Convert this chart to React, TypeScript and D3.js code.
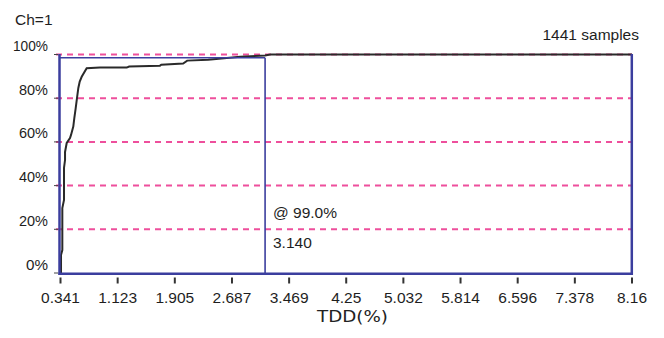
import React from 'react';
import * as d3 from 'd3';

// cumulative distribution: TDD value (%) vs share of samples (%)
const tddValues = [0.341, 0.348, 0.348, 0.366, 0.366, 0.389, 0.389, 0.403, 0.403, 0.426, 0.471, 0.485, 0.516, 0.53, 0.549, 0.567, 0.585, 0.604, 0.631, 0.699, 0.881, 1.247, 1.28, 1.702, 1.72, 2.019, 2.074, 2.361, 2.799, 3.14, 3.209, 8.16];
const cumPercent = [0, 0, 8.2, 10.5, 29.7, 33.4, 48.1, 51.7, 55.4, 59.5, 61.8, 63.2, 67.0, 70.9, 75.5, 80.1, 84.7, 87.6, 89.8, 93.7, 94.0, 94.0, 94.5, 94.9, 95.3, 95.9, 97.2, 97.6, 99.0, 99.5, 100, 100];

const xTicks = [0.341, 1.123, 1.905, 2.687, 3.469, 4.25, 5.032, 5.814, 6.596, 7.378, 8.16];
const xTickLabels = ['0.341', '1.123', '1.905', '2.687', '3.469', '4.25', '5.032', '5.814', '6.596', '7.378', '8.16'];
const yTicks = [0, 20, 40, 60, 80, 100];
const gridLevels = [20, 40, 60, 80, 100];

const cursorPercent = 99.0;
const cursorValue = 3.14;
const sampleCount = 1441;
const channel = 1;

const font = '"Liberation Sans", Arial, sans-serif';
const blue = '#3b3e9e';
const pink = '#ee4f9c';

export default function App() {
  const x = d3.scaleLinear().domain([0.341, 8.16]).range([60.5, 632]);
  const y = d3.scaleLinear().domain([0, 100]).range([273, 54.5]);

  const data = tddValues.map((v, i) => ({ v, p: cumPercent[i] }));
  const line = d3.line<{ v: number; p: number }>()
    .x(d => x(d.v))
    .y(d => y(d.p));

  const cx = x(cursorValue);
  const cy = y(cursorPercent);

  return (
    <svg width={664} height={338} style={{ position: 'absolute', left: 0, top: 0, background: '#fff' }}>
      <rect width={664} height={338} fill="#fff" />

      <text x={15} y={25} fontFamily={font} fontSize={15.5} fill="#1e1e1e">Ch={channel}</text>
      <text x={639} y={40} textAnchor="end" fontFamily={font} fontSize={15.5} fill="#1e1e1e">{sampleCount} samples</text>

      {/* dashed grid */}
      {gridLevels.map(g => (
        <line key={g} x1={56} x2={632} y1={y(g)} y2={y(g)} stroke={pink} strokeWidth={2} strokeDasharray="6,5" />
      ))}

      {/* y axis ticks and labels */}
      {yTicks.map(t => (
        <g key={t}>
          <line x1={54} x2={58} y1={y(t)} y2={y(t)} stroke="#444" strokeWidth={1} />
          <text x={48} y={y(t) - 3.5} textAnchor="end" fontFamily={font} fontSize={15.5} fill="#1e1e1e"
            textLength={t === 100 ? 35 : t === 0 ? 22 : 29} lengthAdjust="spacingAndGlyphs">{t}%</text>
        </g>
      ))}

      {/* cumulative curve */}
      <path d={line(data) || ''} fill="none" stroke="#2a2a2a" strokeWidth={2} />

      {/* cursor at 99% */}
      <line x1={60} x2={cx} y1={cy + 1} y2={cy + 1} stroke={blue} strokeWidth={1.6} />
      <line x1={cx} x2={cx} y1={cy + 1} y2={273} stroke={blue} strokeWidth={1.6} />
      <text x={273} y={218} fontFamily={font} fontSize={15.5} fill="#1e1e1e">@ {cursorPercent.toFixed(1)}%</text>
      <text x={273} y={247.5} fontFamily={font} fontSize={15.5} fill="#1e1e1e">{cursorValue.toFixed(3)}</text>

      {/* frame: left, bottom, right */}
      <line x1={59.5} x2={59.5} y1={54} y2={275} stroke={blue} strokeWidth={2.5} />
      <line x1={58.5} x2={633} y1={273.8} y2={273.8} stroke={blue} strokeWidth={2.5} />
      <line x1={631.8} x2={631.8} y1={54} y2={275} stroke={blue} strokeWidth={2.5} />

      {/* x axis ticks and labels */}
      {xTicks.map((t, i) => (
        <g key={t}>
          <line x1={x(t)} x2={x(t)} y1={277.5} y2={283.5} stroke="#333" strokeWidth={2} />
          <text x={x(t)} y={303.3} textAnchor="middle" fontFamily={font} fontSize={15.5} fill="#1e1e1e">{xTickLabels[i]}</text>
        </g>
      ))}

      <text x={352.5} y={321.7} textAnchor="middle" fontFamily='"DejaVu Sans", sans-serif' fontSize={15}
        fill="#222" textLength={71} lengthAdjust="spacingAndGlyphs">TDD(%)</text>
    </svg>
  );
}
